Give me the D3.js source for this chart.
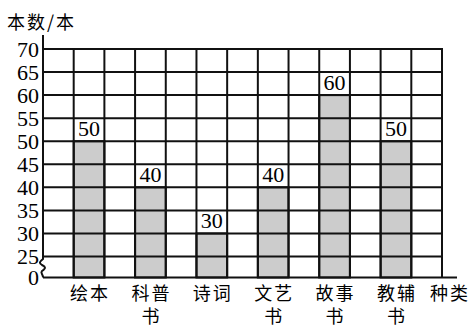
<!DOCTYPE html>
<html>
<head>
<meta charset="utf-8">
<script src="https://cdn.jsdelivr.net/npm/d3@7"></script>
<style>
  body { margin: 0; background: #fff; }
  svg { display: block; }
  .num { font-family: 'Liberation Serif', serif; font-size: 22px; fill: #000; }
  .cjk { font-family: 'Noto Sans CJK SC', sans-serif; font-size: 18px; fill: #000; letter-spacing: 2px; }
</style>
</head>
<body>
<script>
// Data
const categories = ['绘本', '科普书', '诗词', '文艺书', '故事书', '教辅书'];
const counts = [50, 40, 30, 40, 60, 50];
const yTicks = [0, 25, 30, 35, 40, 45, 50, 55, 60, 65, 70];
const yTitle = '本数/本';
const xTitle = '种类';

const WIDTH = 474;
const HEIGHT = 328;
const LEFT = 43, RIGHT = 442, TOP = 49, BASE = 277.5;

const svg = d3.select('body')
  .append('svg')
  .attr('width', WIDTH)
  .attr('height', HEIGHT);

// Scales: band for bars, piecewise linear for the broken y axis
const x = d3.scaleBand()
  .domain(categories)
  .range([LEFT, RIGHT])
  .paddingInner(0.5)
  .paddingOuter(0.5);

const y = d3.scaleLinear()
  .domain([0, 25, 70])
  .range([BASE, 256.5, TOP]);

const half = x.step() / 2;
const colLines = d3.range(1, categories.length * 2 + 2).map(i => LEFT + i * half);

// Bars (under grid)
svg.append('g')
  .selectAll('rect')
  .data(counts)
  .enter().append('rect')
  .attr('x', (d, i) => x(categories[i]))
  .attr('y', d => y(d))
  .attr('width', x.bandwidth())
  .attr('height', d => BASE - y(d))
  .style('fill', '#cccccc');

// Grid
const grid = svg.append('g').style('stroke', '#111').style('stroke-width', 2);
grid.selectAll('.h')
  .data(yTicks.filter(t => t >= 25))
  .enter().append('line')
  .attr('x1', LEFT).attr('x2', RIGHT)
  .attr('y1', d => y(d)).attr('y2', d => y(d));
grid.selectAll('.v')
  .data(colLines)
  .enter().append('line')
  .attr('x1', d => d).attr('x2', d => d)
  .attr('y1', y(70) - 1).attr('y2', BASE);

// Bar outlines
svg.append('g')
  .selectAll('rect')
  .data(counts)
  .enter().append('rect')
  .attr('x', (d, i) => x(categories[i]))
  .attr('y', d => y(d))
  .attr('width', x.bandwidth())
  .attr('height', d => BASE - y(d))
  .style('fill', 'none')
  .style('stroke', '#111')
  .style('stroke-width', 2);

// Axis lines, with the break mark between 0 and 25
const axisG = svg.append('g').style('stroke', '#111').style('stroke-width', 2).style('fill', 'none');
axisG.append('line')
  .attr('x1', LEFT).attr('x2', 457)
  .attr('y1', BASE).attr('y2', BASE);
axisG.append('path')
  .attr('d', 'M' + LEFT + ',35 L' + LEFT + ',259 C' + (LEFT - 4) + ',262 ' + (LEFT - 4) + ',263 ' + (LEFT - 1) + ',265'
    + ' C' + (LEFT + 3) + ',267 ' + (LEFT + 3) + ',268 ' + (LEFT - 1) + ',271'
    + ' C' + (LEFT - 3) + ',273 ' + LEFT + ',274 ' + LEFT + ',' + BASE);

// Y tick labels
const yAxis = d3.axisLeft(y).tickValues(yTicks).tickSize(0).tickPadding(4);
const yG = svg.append('g')
  .attr('transform', 'translate(' + LEFT + ',0)')
  .call(yAxis)
  .attr('font-family', null)
  .attr('font-size', null);
yG.select('.domain').remove();
yG.selectAll('text')
  .attr('class', 'num')
  .attr('x', -4)
  .attr('dy', '0.34em')
  .attr('fill', null);

// Value labels
svg.append('g')
  .selectAll('text')
  .data(counts)
  .enter().append('text')
  .attr('class', 'num')
  .attr('x', (d, i) => x(categories[i]) + x.bandwidth() / 2)
  .attr('y', d => y(d) - 5)
  .attr('text-anchor', 'middle')
  .text(d => d);

// Category labels (wrap after two characters), one text per line
const xl = svg.append('g');
xl.selectAll('.l1')
  .data(categories)
  .enter().append('text')
  .attr('class', 'cjk')
  .attr('text-anchor', 'middle')
  .attr('x', d => x(d) + x.bandwidth() / 2 + 1)
  .attr('y', 300)
  .text(d => d.slice(0, 2));
xl.selectAll('.l2')
  .data(categories.filter(d => d.length > 2))
  .enter().append('text')
  .attr('class', 'cjk')
  .attr('text-anchor', 'middle')
  .attr('x', d => x(d) + x.bandwidth() / 2 + 1)
  .attr('y', 323)
  .text(d => d.slice(2));

// Axis titles
svg.append('text')
  .attr('class', 'cjk')
  .attr('x', 450)
  .attr('y', 300)
  .attr('text-anchor', 'middle')
  .text(xTitle);

svg.append('text')
  .attr('class', 'cjk')
  .attr('x', 7)
  .attr('y', 29)
  .text(yTitle);
</script>
</body>
</html>
